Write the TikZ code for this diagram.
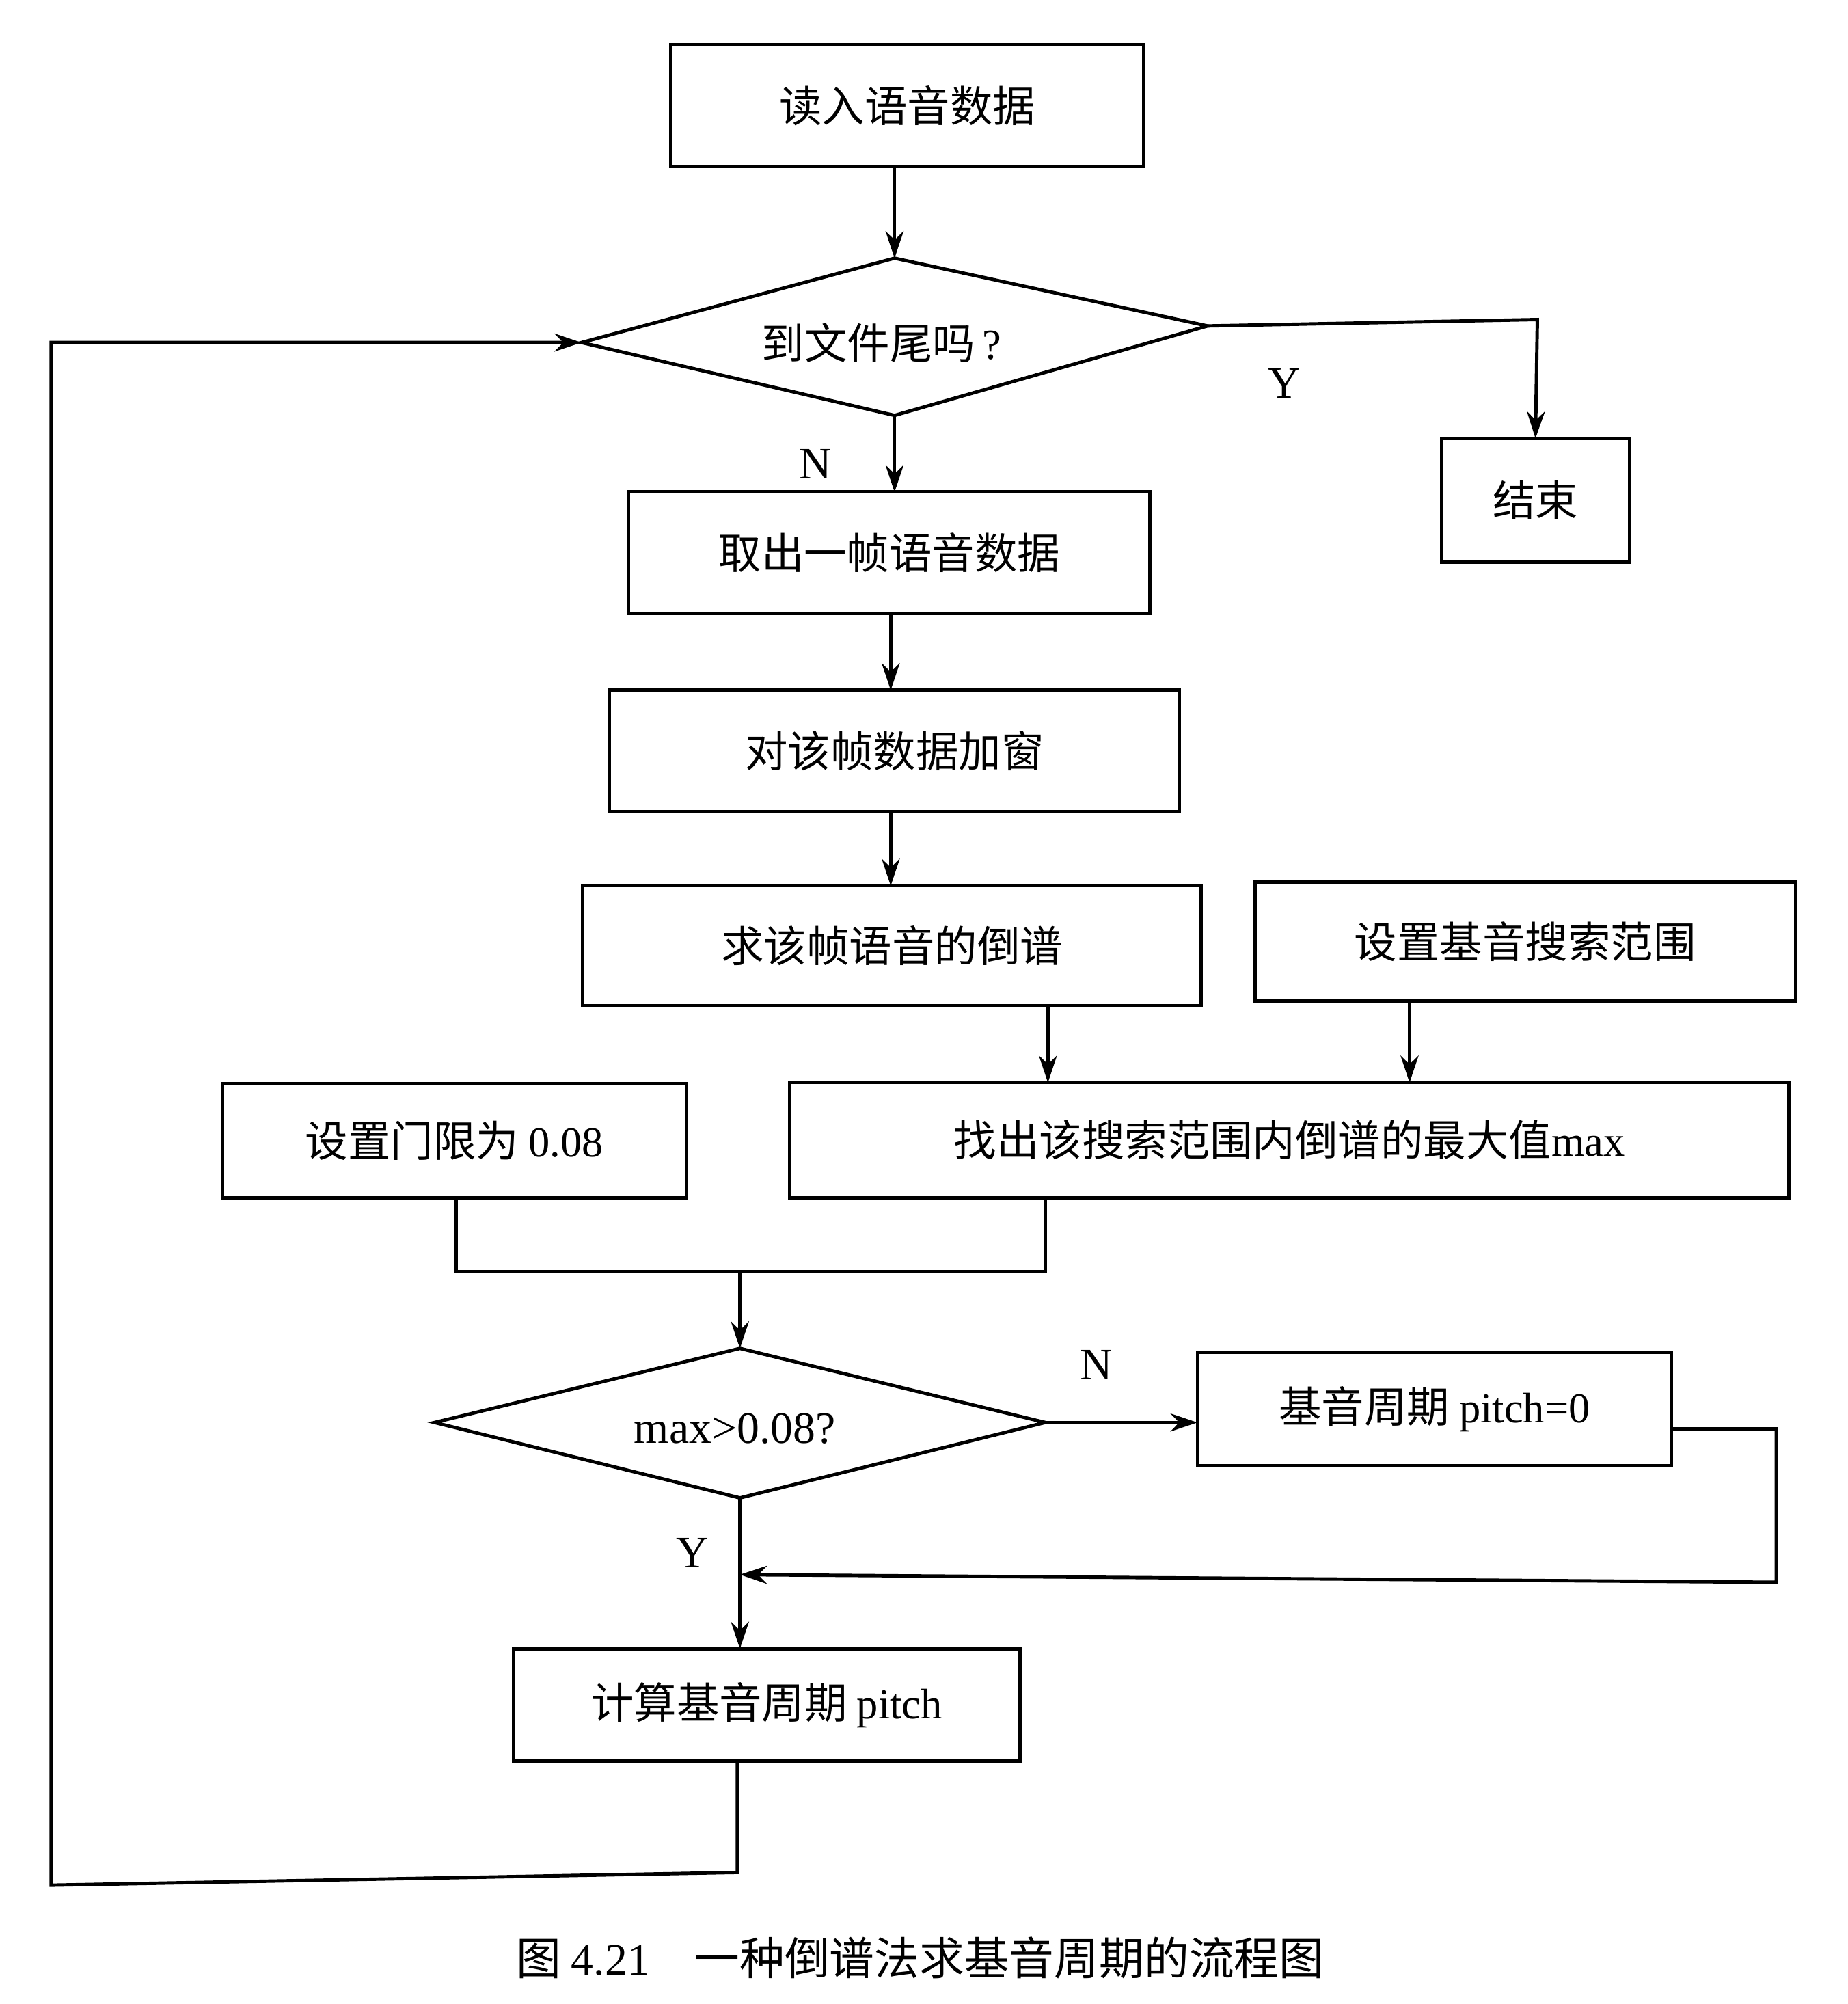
\documentclass[tikz,border=0pt]{standalone}
\usepackage{fontspec}
\setmainfont{Liberation Serif}
\newfontfamily\cjk{Noto Sans CJK SC}
\usetikzlibrary{arrows.meta}
\begin{document}
\begin{tikzpicture}[x=0.01cm,y=-0.01cm,line width=0.75pt,
  box/.style={draw,rectangle,font=\cjk\fontsize{9.5}{11}\selectfont},
  arr/.style={-{Stealth[length=6pt,width=4pt]}},
  lab/.style={font=\fontsize{10}{12}\selectfont}]
\fill[white] (0,0) rectangle (1446,1568);
\useasboundingbox (0,0) rectangle (1446,1568);
\newcommand\bx[6]{\draw (#2,#3) rectangle (#4,#5); \node[box,draw=none] (#1) at ({(#2+#4)/2},{(#3+#5)/2}) {#6};
  \coordinate (#1-n) at ({(#2+#4)/2},#3); \coordinate (#1-s) at ({(#2+#4)/2},#5);}
\bx{read}{525}{35}{895}{130}{读入语音数据}
\draw (455,268) coordinate (d1w) -- (700,202) coordinate (d1n) -- (945,255) coordinate (d1e) -- (700,325) coordinate (d1s) -- cycle;
\node[box,draw=none] (d1) at (690,268) {到文件尾吗\,{\rmfamily ?}};
\bx{end}{1128}{343}{1275}{440}{结束}
\bx{take}{492}{385}{900}{480}{取出一帧语音数据}
\bx{win}{477}{540}{923}{635}{对该帧数据加窗}
\bx{cep}{456}{693}{940}{787}{求该帧语音的倒谱}
\bx{rng}{982}{690}{1405}{783}{设置基音搜索范围}
\bx{thr}{174}{848}{537}{937}{设置门限为 {\rmfamily 0.08}}
\bx{find}{618}{847}{1400}{937}{找出该搜索范围内倒谱的最大值{\rmfamily max}}
\draw (340,1113) coordinate (d2w) -- (579,1055) coordinate (d2n) -- (818,1113) coordinate (d2e) -- (579,1172) coordinate (d2s) -- cycle;
\node[lab] (d2) at (575,1118) {max>0.08?};
\bx{p0}{937}{1058}{1308}{1147}{基音周期 {\rmfamily pitch=0}}
\bx{calc}{402}{1290}{798}{1378}{计算基音周期 {\rmfamily pitch}}
\draw[arr] (d1n |- read-s) -- (d1n);
\draw[arr] (d1e) -- (1203,250) -- (end-n);
\node[lab] (ly) at (1005,300) {Y};
\draw[arr] (d1s) -- (d1s |- take-n);
\node[lab] (ln) at (638,363) {N};
\draw[arr] (697,480) -- (697,540);
\draw[arr] (697,635) -- (697,693);
\draw[arr] (820,787) -- (820,847);
\draw[arr] (1103,783) -- (1103,847);
\draw (357,937) -- (357,995) -- (818,995) -- (818,937);
\draw[arr] (579,995) -- (d2n);
\draw[arr] (d2e) -- (937,1113);
\node[lab] (ln2) at (858,1068) {N};
\draw[arr] (1308,1118) -- (1390,1118) -- (1390,1238) -- (579,1232);
\draw[arr] (d2s) -- (d2s |- calc-n);
\node[lab] (ly2) at (542,1215) {Y};
\draw[arr] (577,1378) -- (577,1465) -- (40,1475) -- (40,268) -- (d1w);
\node[font=\cjk\fontsize{10}{12}\selectfont] (cap) at (720,1532) {图 {\rmfamily 4.21}\quad 一种倒谱法求基音周期的流程图};
\end{tikzpicture}
\end{document}
